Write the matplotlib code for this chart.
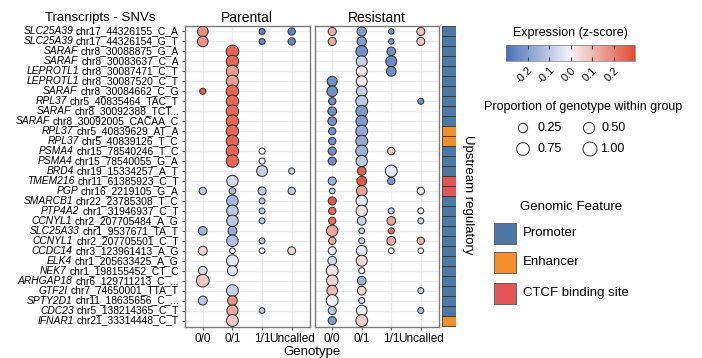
import matplotlib
matplotlib.use("Agg")
import matplotlib.pyplot as plt
import numpy as np
from matplotlib.colors import LinearSegmentedColormap, Normalize
from matplotlib.cm import ScalarMappable

plt.rcParams['font.family'] = ['Liberation Sans', 'DejaVu Sans']

# 行标签
genes = ["SLC25A39", "SLC25A39", "SARAF", "SARAF", "LEPROTL1", "LEPROTL1", "SARAF", "RPL37",
         "SARAF", "SARAF", "RPL37", "RPL37", "PSMA4", "PSMA4", "BRD4", "TMEM216", "PGP",
         "SMARCB1", "PTP4A2", "CCNYL1", "SLC25A33", "CCNYL1", "CCDC14", "ELK4", "NEK7",
         "ARHGAP18", "GTF2I", "SPTY2D1", "CDC23", "IFNAR1"]
snvs = ["chr17_44326155_C_A", "chr17_44326154_G_T", "chr8_30088875_G_A", "chr8_30083637_C_A",
        "chr8_30087471_C_T", "chr8_30087520_C_T", "chr8_30084662_C_G", "chr5_40835464_TAC_T",
        "chr8_30092388_TCT...", "chr8_30092005_CACAA_C", "chr5_40839629_AT_A", "chr5_40839126_T_C",
        "chr15_78540246_T_C", "chr15_78540055_G_A", "chr19_15334257_A_T", "chr11_61385923_C_T",
        "chr16_2219105_G_A", "chr22_23785308_T_C", "chr1_31946937_C_T", "chr2_207705484_A_G",
        "chr1_9537671_TA_T", "chr2_207705501_C_T", "chr3_123961413_A_G", "chr1_205633425_A_G",
        "chr1_198155452_CT_C", "chr6_129711213_C_...", "chr7_74650001_TTA_T", "chr11_18635656_C_...",
        "chr5_138214365_C_T", "chr21_33314448_C_T"]
genotypes = ["0/0", "0/1", "1/1", "Uncalled"]
features = ["Promoter"] * 10 + ["Enhancer"] * 2 + ["Promoter"] * 3 + ["CTCF binding site"] * 2 \
    + ["Promoter"] * 12 + ["Enhancer"]

N = None
# Parental: 每行 [0/0, 0/1, 1/1, Uncalled] 的 (z-score, 比例)
parental = [
    [(0.18, 0.42), N, (-0.26, 0.025), (-0.26, 0.09)],
    [(0.17, 0.42), N, (-0.25, 0.025), (-0.25, 0.09)],
    [N, (0.25, 0.74), N, N],
    [N, (0.25, 0.68), N, N],
    [N, (0.15, 0.68), N, N],
    [N, (0.15, 0.68), N, N],
    [(0.26, 0.03), (0.25, 0.7), N, N],
    [N, (0.25, 0.7), N, N],
    [N, (0.25, 0.7), N, N],
    [N, (0.25, 0.7), N, N],
    [N, (0.25, 0.7), N, N],
    [N, (0.25, 0.7), N, N],
    [N, (0.25, 0.7), (0.0, 0.03), N],
    [N, (0.25, 0.7), (0.0, 0.03), N],
    [N, N, (-0.08, 0.45), (-0.08, 0.03)],
    [N, (-0.06, 0.52), N, N],
    [(-0.1, 0.09), (-0.12, 0.05), (-0.1, 0.14), (-0.1, 0.09)],
    [N, (-0.14, 0.55), (-0.1, 0.02), N],
    [N, (-0.1, 0.55), (-0.1, 0.02), N],
    [N, (-0.1, 0.55), (-0.1, 0.02), N],
    [(-0.15, 0.19), (-0.16, 0.22), N, N],
    [N, (-0.12, 0.55), (-0.1, 0.02), N],
    [(0.05, 0.22), (0.0, 0.015), (0.0, 0.015), (0.05, 0.12)],
    [N, (-0.03, 0.6), N, N],
    [(-0.05, 0.19), (-0.03, 0.34), N, N],
    [(0.08, 0.74), N, N, N],
    [N, (-0.08, 0.6), N, N],
    [(-0.1, 0.22), (0.17, 0.3), N, N],
    [N, (0.13, 0.47), (-0.1, 0.015), N],
    [N, (0.08, 0.6), N, N],
]
resistant = [
    [(0.12, 0.14), (-0.2, 0.26), (-0.22, 0.01), (0.08, 0.14)],
    [(0.13, 0.14), (-0.2, 0.26), (-0.22, 0.01), (0.08, 0.14)],
    [N, (-0.23, 0.57), (-0.23, 0.19), N],
    [N, (-0.08, 0.47), (-0.24, 0.47), N],
    [N, (0.02, 0.47), (-0.23, 0.3), N],
    [(-0.23, 0.34), (0.02, 0.47), N, N],
    [(-0.23, 0.42), (-0.08, 0.42), N, N],
    [(-0.23, 0.09), (-0.1, 0.6), N, (-0.23, 0.025)],
    [(-0.23, 0.19), (-0.21, 0.57), N, N],
    [(-0.23, 0.19), (-0.21, 0.57), N, N],
    [(-0.23, 0.09), (-0.17, 0.6), N, N],
    [(-0.23, 0.09), (-0.17, 0.6), N, N],
    [(-0.23, 0.14), (-0.15, 0.6), (0.06, 0.09), N],
    [(-0.23, 0.14), (-0.1, 0.52), N, N],
    [N, (0.26, 0.19), (-0.02, 0.6), N],
    [(-0.15, 0.14), (0.27, 0.3), (-0.21, 0.09), N],
    [(-0.1, 0.015), (0.15, 0.42), N, (-0.02, 0.09)],
    [(0.27, 0.14), (-0.03, 0.52), N, N],
    [(0.24, 0.09), (0.03, 0.52), (-0.08, 0.025), (0.0, 0.025)],
    [(0.24, 0.09), (-0.08, 0.19), (0.14, 0.19), (-0.08, 0.025)],
    [(0.14, 0.52), (-0.08, 0.015), (0.23, 0.025), N],
    [(0.13, 0.09), (-0.08, 0.025), (0.13, 0.19), (0.12, 0.09)],
    [(-0.02, 0.14), (-0.03, 0.42), (0.0, 0.015), (0.0, 0.015)],
    [(-0.06, 0.19), (0.05, 0.47), N, N],
    [(0.03, 0.6), (0.0, 0.025), N, N],
    [(0.06, 0.52), (-0.15, 0.19), N, N],
    [(0.1, 0.42), (0.05, 0.19), N, (-0.08, 0.025)],
    [(-0.01, 0.6), (-0.06, 0.025), N, N],
    [(-0.1, 0.14), (-0.01, 0.42), N, (-0.12, 0.025)],
    [(-0.2, 0.14), (0.07, 0.6), N, N],
]
feature_colors = {"Promoter": "#4e79a7", "Enhancer": "#f28e2b", "CTCF binding site": "#e15759"}

cmap = LinearSegmentedColormap.from_list("bwr_gg", ["#4a72b9", "#f4f4f9", "#e44a30"])
norm = Normalize(-0.3, 0.3)
W, H = 702, 358


def psize(p):
    # 比例 -> 点面积 (pt^2)
    d = 4.5 + 9.5 * np.sqrt(np.asarray(p))
    return (d * 0.72) ** 2


def frac(x0, y0, x1, y1):
    return [x0 / W, 1 - y1 / H, (x1 - x0) / W, (y1 - y0) / H]


fig = plt.figure(figsize=(7.02, 3.58), dpi=100)
top, bot = 25.5, 326.5
ax1 = fig.add_axes(frac(185, top, 309.5, bot))
ax2 = fig.add_axes(frac(314.5, top, 438.5, bot))
ax3 = fig.add_axes(frac(442, top, 456, bot))

nrow = len(genes)
for ax, data, title in [(ax1, parental, "Parental"), (ax2, resistant, "Resistant")]:
    xs, ys, cs, ss = [], [], [], []
    for i, row in enumerate(data):
        for j, v in enumerate(row):
            if v is not None:
                xs.append(j)
                ys.append(i)
                cs.append(v[0])
                ss.append(v[1])
    ax.scatter(xs, ys, c=cs, s=psize(ss), cmap=cmap, norm=norm,
               edgecolors="#2b2b2b", linewidths=0.7, zorder=3)
    ax.set_xlim(-0.6, 3.6)
    ax.set_ylim(nrow - 0.4, -0.6)
    ax.set_xticks(range(4))
    ax.set_xticklabels(genotypes, fontsize=8.5)
    ax.set_yticks(range(nrow))
    ax.set_yticklabels([])
    ax.grid(True, color="#ebebeb", lw=0.9, zorder=0)
    ax.set_axisbelow(True)
    ax.tick_params(length=2.5, color="#555555", pad=2)
    for s in ax.spines.values():
        s.set_color("#7a7a7a")
        s.set_linewidth(1)
    ax.set_title(title, fontsize=10, pad=2)

ax2.tick_params(axis="y", left=False)

# y 轴标签：基因名斜体 + SNV 正体
renderer = fig.canvas.get_renderer()
ytrans = ax1.get_yaxis_transform()
for i, (g, s) in enumerate(zip(genes, snvs)):
    t = ax1.annotate(s, xy=(0, i), xycoords=ytrans, xytext=(-4.5, 0), textcoords="offset points",
                     ha="right", va="center", fontsize=7.4)
    w = t.get_window_extent(renderer).width * 72 / fig.dpi
    ax1.annotate(g, xy=(0, i), xycoords=ytrans, xytext=(-4.5 - w - 2, 0), textcoords="offset points",
                 ha="right", va="center", fontsize=7.4, style="italic")

# 基因组特征条
for i, f in enumerate(features):
    ax3.bar(0, 1, bottom=i - 0.5, width=1, color=feature_colors[f], edgecolor="#333333", lw=0.6)
ax3.set_xlim(-0.5, 0.5)
ax3.set_ylim(nrow - 0.4, -0.6)
ax3.axis("off")

fig.text(100 / W, 1 - 18 / H, "Transcripts - SNVs", fontsize=9.5, ha="center", va="center")
fig.text(312 / W, 1 - 352 / H, "Genotype", fontsize=9.5, ha="center", va="center")
fig.text(468 / W, 1 - 195 / H, "Upstream regulatory", fontsize=9.5, ha="center", va="center",
         rotation=270)

# 颜色图例
cax = fig.add_axes(frac(506, 45, 635, 61))
cb = fig.colorbar(ScalarMappable(norm=norm, cmap=cmap), cax=cax, orientation="horizontal")
cb.set_ticks([-0.2, -0.1, 0.0, 0.1, 0.2])
cb.ax.set_xticklabels(["-0.2", "-0.1", "0.0", "0.1", "0.2"], rotation=45, ha="right",
                      rotation_mode="anchor", fontsize=8)
cb.ax.tick_params(direction="in", length=3, top=True, bottom=True, color="#444444", pad=3)
cb.outline.set_linewidth(0.5)
cb.outline.set_edgecolor("#777777")
fig.text(570 / W, 1 - 33 / H, "Expression (z-score)", fontsize=9, ha="center", va="center")

# 大小图例和特征图例
lg = fig.add_axes([0, 0, 1, 1])
lg.set_xlim(0, W)
lg.set_ylim(H, 0)
lg.axis("off")
lg.text(583, 107, "Proportion of genotype within group", fontsize=9, ha="center", va="center")
leg_p = [0.25, 0.50, 0.75, 1.00]
leg_x = [523, 589, 523, 590]
leg_y = [128, 128, 149, 149]
leg_tx = [537, 602, 537, 600]
lg.scatter(leg_x, leg_y, s=psize(leg_p), facecolors="white", edgecolors="#2b2b2b", linewidths=0.7)
for p, x, y in zip(leg_p, leg_tx, leg_y):
    lg.text(x, y, "%.2f" % p, fontsize=9, va="center", ha="left")

lg.text(520, 207, "Genomic Feature", fontsize=9.5, va="center", ha="left")
for name, yc in zip(["Promoter", "Enhancer", "CTCF binding site"], [233, 262, 293]):
    lg.add_patch(plt.Rectangle((494, yc - 10.5), 22, 21, facecolor=feature_colors[name],
                               edgecolor="#555555", lw=0.6))
    lg.text(523, yc, name, fontsize=9.5, va="center", ha="left")

fig.savefig("out.png", dpi=100)
